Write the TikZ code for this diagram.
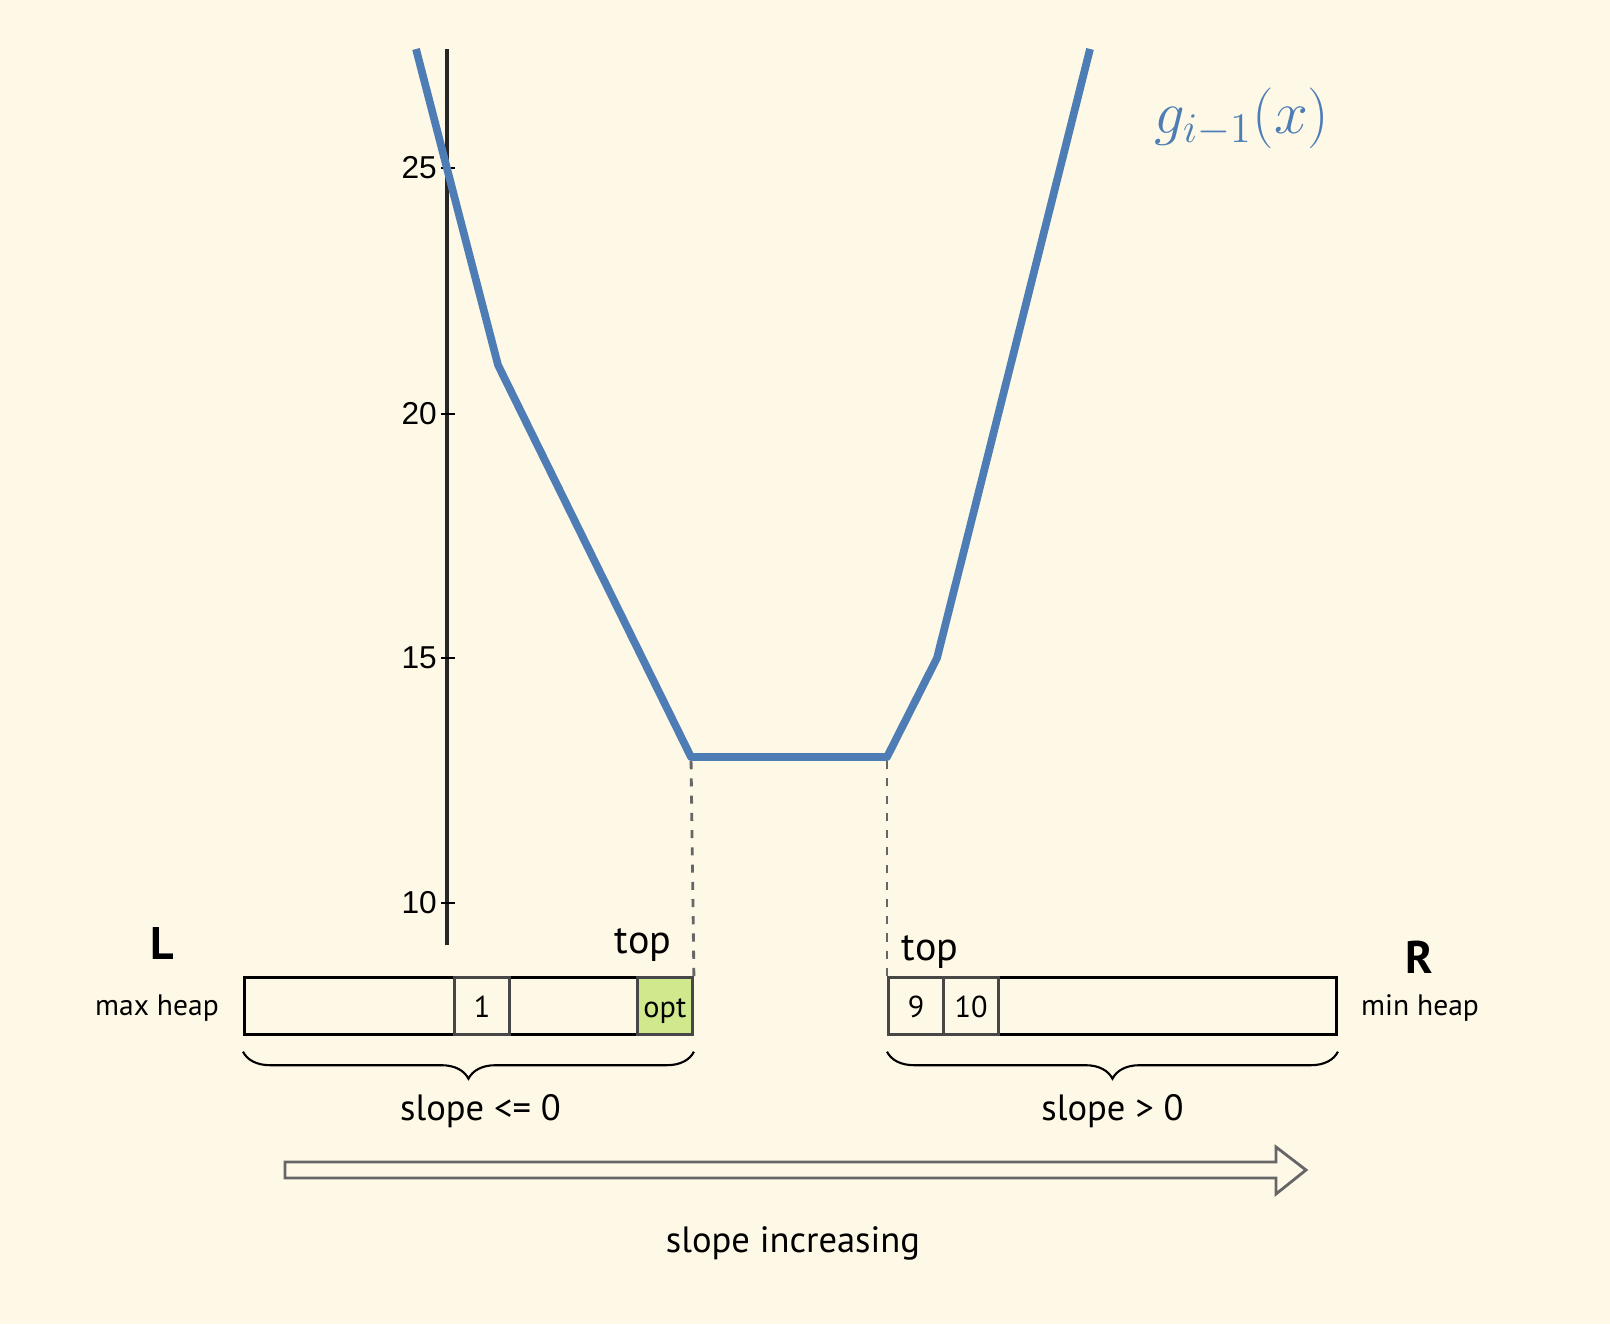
\documentclass[tikz,border=0pt]{standalone}
\usepackage{fontspec}
\setmainfont{PT Sans}
\newfontfamily\axisfont{Liberation Sans}
\usepackage{amsmath}
\usetikzlibrary{positioning,decorations.pathreplacing}

\definecolor{bgcream}{HTML}{FEF8E7}
\definecolor{curveblue}{HTML}{4E7DB5}
\definecolor{optgreen}{HTML}{D0E98C}

\tikzset{
    heap/.style={draw=black, line width=0.75pt, minimum width=4.48cm, minimum height=0.57cm, inner sep=0pt},
    cell/.style={draw=black!72, line width=0.85pt, minimum width=0.55cm, minimum height=0.57cm, inner sep=0pt,
        text height=1.55ex, text depth=0.3ex, font=\fontsize{8.6}{10}\selectfont},
    guide/.style={dash pattern=on 2.3pt off 2.6pt, black!60, line width=0.8pt},
    brc/.style={decorate, decoration={brace, mirror, amplitude=0.27cm}, line width=0.6pt},
    curve/.style={curveblue, line width=2.2pt, line join=round},
    small/.style={font=\fontsize{8.4}{10}\selectfont},
    tag/.style={font=\fontsize{13}{15}\bfseries},
    toptag/.style={font=\fontsize{11.4}{13}\selectfont},
}

\begin{document}
\begin{tikzpicture}[x=0.01cm, y=-0.01cm, font=\fontsize{10.4}{12}\selectfont]
    % 背景
    \fill[bgcream] (0,0) rectangle (1610,1324);
    \useasboundingbox (0,0) rectangle (1610,1324);

    % 纵轴
    \draw[line width=1pt, black!85] (447,945) -- (447,49);
    \foreach \v/\y in {10/903,15/658,20/414,25/168} {
        \draw[line width=0.7pt] (441,\y) -- (455,\y);
        \node[left, inner sep=1pt, font=\axisfont\fontsize{9}{10}\selectfont] at (441,\y) {\v};
    }

    % 函数 g_{i-1}(x)
    \coordinate (p0) at (416,49);
    \coordinate (p1) at (498,365);
    \coordinate (minL) at (691,757);
    \coordinate (minR) at (887,757);
    \coordinate (p4) at (937,658);
    \coordinate (p5) at (1090,49);
    \draw[curve] (p0) -- (p1) -- (minL) -- (minR) -- (p4) -- (p5);
    \node[curveblue, font=\fontsize{16.7}{19}\selectfont] (glabel) at (1242,118) {$g_{i-1}(x)$};

    % 两个堆
    \node[heap, anchor=north west] (Lheap) at (243,976) {};
    \node[heap, anchor=north west] (Rheap) at (887,976) {};
    \node[cell, anchor=north west] (one) at (453,976) {1};
    \node[cell, fill=optgreen, anchor=north east] (opt) at (Lheap.north east) {opt};
    \node[cell, anchor=north west] (nine) at (Rheap.north west) {9};
    \node[cell, right=-0.85pt of nine] (ten) {10};

    % 虚线
    \draw[guide] (opt.north east) -- (minL);
    \draw[guide] (nine.north west) -- (minR);

    % 标签
    \node[tag] (Ltag) at (162,943) {L};
    \node[tag] (Rtag) at (1419,957) {R};
    \node[small] (Lkind) at (157,1008) {max heap};
    \node[small] (Rkind) at (1420,1008) {min heap};
    \node[toptag] (Ltop) at (643,945) {top};
    \node[toptag] (Rtop) at (930,952) {top};

    % 大括号
    \draw[brc] ([yshift=-0.16cm]Lheap.south west) -- ([yshift=-0.16cm]Lheap.south east)
        node[midway, below=0.3cm, xshift=0.12cm] (Lslope) {slope <= 0};
    \draw[brc] ([yshift=-0.16cm]Rheap.south west) -- ([yshift=-0.16cm]Rheap.south east)
        node[midway, below=0.3cm] (Rslope) {slope > 0};

    % 斜率方向
    \draw[black!60, line width=0.8pt, fill=bgcream] (285,1162) -- (1276,1162) -- (1276,1147) -- (1306,1170)
        -- (1276,1194) -- (1276,1178) -- (285,1178) -- cycle;
    \node (incr) at (793,1243) {slope increasing};
\end{tikzpicture}
\end{document}
